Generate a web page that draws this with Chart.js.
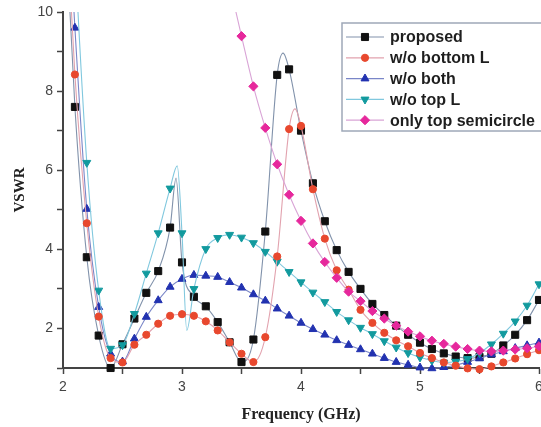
<!DOCTYPE html>
<html>
<head>
<meta charset="utf-8">
<script src="https://cdn.jsdelivr.net/npm/chart.js@4.4.1/dist/chart.umd.min.js"></script>
<style>
  html, body { margin: 0; padding: 0; background: #fff; overflow: hidden; }
  #wrap { position: relative; width: 545px; height: 427px; }
</style>
</head>
<body>
<div id="wrap"><canvas id="vswrChart"></canvas></div>
<script>
// frequency points (GHz), one marker every 0.1 GHz
const freq = [2.0, 2.1, 2.2, 2.3, 2.4, 2.5, 2.6, 2.7, 2.8, 2.9,
              3.0, 3.1, 3.2, 3.3, 3.4, 3.5, 3.6, 3.7, 3.8, 3.9,
              4.0, 4.1, 4.2, 4.3, 4.4, 4.5, 4.6, 4.7, 4.8, 4.9,
              5.0, 5.1, 5.2, 5.3, 5.4, 5.5, 5.6, 5.7, 5.8, 5.9, 6.0];

const proposed = [13.5, 7.6, 3.8, 1.82, 1.0, 1.6, 2.25, 2.9, 3.45, 4.55,
                  3.67, 2.8, 2.56, 2.16, 1.65, 1.15, 1.72, 4.45, 8.41, 8.55,
                  7.0, 5.67, 4.71, 3.98, 3.43, 3.0, 2.62, 2.34, 2.07, 1.84,
                  1.64, 1.48, 1.37, 1.29, 1.25, 1.28, 1.36, 1.57, 1.84, 2.21, 2.72];
const noBottomL = [14, 8.42, 4.66, 2.3, 1.25, 1.14, 1.59, 1.84, 2.12, 2.32,
                   2.36, 2.32, 2.18, 1.95, 1.65, 1.36, 1.15, 1.78, 3.82, 7.04,
                   7.12, 5.52, 4.27, 3.47, 2.98, 2.47, 2.14, 1.89, 1.70, 1.55,
                   1.38, 1.25, 1.14, 1.06, 0.99, 0.97, 1.04, 1.14, 1.24, 1.35, 1.45];
const noBoth = [15, 9.6, 5.02, 2.54, 1.36, 1.16, 1.74, 2.29, 2.71, 3.05,
                3.25, 3.35, 3.33, 3.30, 3.17, 3.03, 2.86, 2.70, 2.50, 2.32,
                2.14, 1.98, 1.84, 1.70, 1.58, 1.47, 1.36, 1.25, 1.15, 1.08,
                1.01, 0.99, 1.02, 1.07, 1.15, 1.24, 1.34, 1.42, 1.50, 1.57, 1.64];
const noTopL = [18, 11.5, 6.19, 2.96, 1.49, 1.58, 2.37, 3.39, 4.41, 5.54,
                4.41, 3.0, 4.01, 4.29, 4.37, 4.30, 4.16, 3.94, 3.69, 3.43,
                3.17, 2.91, 2.67, 2.42, 2.21, 2.02, 1.86, 1.68, 1.52, 1.38,
                1.27, 1.19, 1.14, 1.16, 1.23, 1.38, 1.60, 1.87, 2.18, 2.58, 3.12];
const topSemi = [null, null, null, null, null, null, null, null, null, null,
                 null, null, null, null, 10.7, 9.39, 8.12, 7.07, 6.15, 5.38,
                 4.72, 4.15, 3.68, 3.28, 2.93, 2.69, 2.44, 2.25, 2.07, 1.92,
                 1.80, 1.69, 1.61, 1.54, 1.48, 1.44, 1.42, 1.44, 1.47, 1.50, 1.55];

// sharp peaks / dips of the simulated curves that fall between markers
const proposedPeakX = [2.95, 3.85];
const proposedPeakY = [5.8, 8.96];
const noBottomLPeakX = [3.95];
const noBottomLPeakY = [7.55];
const noTopLPeakX = [2.96, 3.04];
const noTopLPeakY = [6.11, 1.95];

const xTickLabels = [2, 3, 4, 5, 6];
const yTickLabels = [2, 4, 6, 8, 10];

function toPoints(vals, extraX, extraY) {
  const pts = [];
  freq.forEach((f, i) => {
    if (vals[i] !== null) pts.push({ x: f, y: vals[i], m: 1 });
  });
  (extraX || []).forEach((f, i) => pts.push({ x: f, y: extraY[i], m: 0 }));
  return pts.sort((a, b) => a.x - b.x);
}

function series(label, data, marker, line, style, size, rot, order, legendIndex) {
  return {
    label: label,
    data: data,
    borderColor: line,
    backgroundColor: marker,
    pointBackgroundColor: marker,
    pointBorderColor: marker,
    pointBorderWidth: 1,
    pointStyle: style,
    pointRotation: rot,
    pointRadius: ctx => (ctx.raw && ctx.raw.m) ? size : 0,
    pointHoverRadius: 0,
    borderWidth: 1.1,
    cubicInterpolationMode: 'monotone',
    clip: { left: 0, top: 0, right: false, bottom: false },
    order: order,
    markerSize: size,
    markerColor: marker,
    legendIndex: legendIndex,
  };
}

const boxLegend = {
  id: 'boxLegend',
  afterDatasetsDraw(chart) {
    const ctx = chart.ctx;
    ctx.save();
    ctx.fillStyle = '#ffffff';
    ctx.fillRect(342, 23, 230, 108);
    ctx.strokeStyle = '#9ea8b8';
    ctx.lineWidth = 1.5;
    ctx.strokeRect(342, 23, 230, 108);
    const list = chart.data.datasets.slice().sort((a, b) => a.legendIndex - b.legendIndex);
    list.forEach((ds, i) => {
      const y = 37 + i * 20.8;
      ctx.strokeStyle = ds.borderColor;
      ctx.lineWidth = 1.2;
      ctx.beginPath();
      ctx.moveTo(346, y);
      ctx.lineTo(384, y);
      ctx.stroke();
      ctx.fillStyle = ds.markerColor;
      ctx.strokeStyle = ds.markerColor;
      ctx.lineWidth = 1;
      Chart.helpers.drawPoint(ctx, {
        pointStyle: ds.pointStyle, radius: ds.markerSize,
        rotation: ds.pointRotation, borderWidth: 1
      }, 365, y);
      ctx.fillStyle = '#1e1e1e';
      ctx.font = 'bold 16px "Liberation Sans", Arial, sans-serif';
      ctx.textBaseline = 'middle';
      ctx.textAlign = 'left';
      ctx.fillText(ds.label, 390, y + 1);
    });
    ctx.restore();
  }
};

const ctx = document.getElementById('vswrChart').getContext('2d');
const vswrChart = new Chart(ctx, {
  type: 'line',
  data: {
    datasets: [
      series('proposed', toPoints(proposed, proposedPeakX, proposedPeakY),
             '#111111', '#8192ab', 'rect', 5, 0, 5, 0),
      series('w/o bottom L', toPoints(noBottomL, noBottomLPeakX, noBottomLPeakY),
             '#e8482e', '#e2a2ae', 'circle', 3.6, 0, 2, 1),
      series('w/o both', toPoints(noBoth),
             '#2232b0', '#7a86c8', 'triangle', 4.6, 0, 4, 2),
      series('w/o top L', toPoints(noTopL, noTopLPeakX, noTopLPeakY),
             '#129a9e', '#80c8de', 'triangle', 4.6, 180, 3, 3),
      series('only top semicircle', toPoints(topSemi),
             '#e6289c', '#d9a4d6', 'rectRot', 4.6, 0, 1, 4),
    ]
  },
  options: {
    responsive: true,
    maintainAspectRatio: false,
    animation: false,
    layout: { padding: { top: 12, right: 2, left: 0, bottom: 0 } },
    plugins: {
      legend: { display: false },
      tooltip: { enabled: false },
    },
    scales: {
      x: {
        type: 'linear',
        min: 2,
        max: 6,
        afterFit: s => { s.height = 59; s.paddingLeft = 0; s.paddingRight = 0; },
        ticks: {
          stepSize: 0.5,
          autoSkip: false,
          maxRotation: 0,
          padding: 5,
          color: '#444',
          font: { family: '"Liberation Sans", Arial, sans-serif', size: 14 },
          callback: v => xTickLabels.includes(v) ? String(v) : '',
        },
        grid: { drawOnChartArea: false, tickLength: 6, color: '#444', tickWidth: 1.5 },
        border: { color: '#444', width: 2 },
        title: {
          display: true,
          text: 'Frequency (GHz)',
          color: '#222',
          font: { family: '"Liberation Serif", "Times New Roman", serif', size: 16, weight: 'bold' },
          padding: { top: 0, bottom: 3 },
        },
      },
      y: {
        min: 1,
        max: 10,
        afterFit: s => { s.width = 63; s.paddingTop = 0; s.paddingBottom = 0; },
        ticks: {
          stepSize: 1,
          autoSkip: false,
          padding: 4,
          color: '#444',
          font: { family: '"Liberation Sans", Arial, sans-serif', size: 14 },
          callback: v => yTickLabels.includes(v) ? String(v) : '',
        },
        grid: { drawOnChartArea: false, tickLength: 6, color: '#444', tickWidth: 1.5 },
        border: { color: '#444', width: 2 },
        title: {
          display: true,
          text: 'VSWR',
          color: '#222',
          font: { family: '"Liberation Serif", "Times New Roman", serif', size: 15, weight: 'bold' },
          padding: { top: 11, bottom: 0 },
        },
      },
    },
  },
  plugins: [boxLegend],
});
</script>
</body>
</html>
